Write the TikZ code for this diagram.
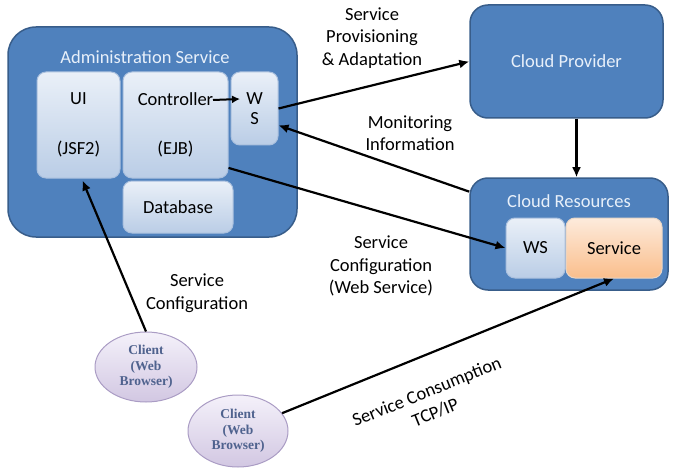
\documentclass[tikz,border=0pt]{standalone}
\usepackage{fontspec}
\setmainfont{Carlito}
\newfontfamily\clientfont{Liberation Serif}
\usetikzlibrary{arrows.meta,shapes.geometric}

\definecolor{cloudblue}{RGB}{79,129,189}
\definecolor{cloudedge}{RGB}{56,93,138}
\definecolor{titletext}{RGB}{232,240,250}
\definecolor{partop}{RGB}{234,240,248}
\definecolor{partbot}{RGB}{186,205,230}
\definecolor{partedge}{RGB}{170,192,222}
\definecolor{svctop}{RGB}{253,235,220}
\definecolor{svcbot}{RGB}{250,190,140}
\definecolor{clienttop}{RGB}{244,241,250}
\definecolor{clientbot}{RGB}{210,199,226}
\definecolor{clientedge}{RGB}{170,156,196}
\definecolor{clienttext}{RGB}{79,98,142}

\begin{document}
\begin{tikzpicture}[
    x=1pt, y=-1pt,
    font=\fontsize{18.5}{22.5}\selectfont, line width=2.2pt,
    tier/.style={draw=cloudedge,fill=cloudblue,line width=1.5pt,rounded corners=18pt,inner sep=0pt},
    tiertitle/.style={text=titletext},
    part/.style={draw=partedge,top color=partop,bottom color=partbot,line width=1pt,
        rounded corners=9pt,inner sep=0pt,align=center},
    svcpart/.style={part,draw=svcbot!80!black!40,top color=svctop,bottom color=svcbot},
    client/.style={ellipse,draw=clientedge,top color=clienttop,bottom color=clientbot,
        line width=1pt,inner sep=0pt,align=center,text=clienttext,
        font=\clientfont\bfseries\fontsize{13.5}{15.5}\selectfont},
    arrow/.style={-{Latex[length=10pt,width=9pt]},line width=2.2pt},
    note/.style={align=center}
]
\path[use as bounding box] (0,0) rectangle (679,473);

% administration side
\node[tier,rounded corners=28pt,minimum width=289pt,minimum height=210pt] (admin) at (152.5,132) {};
\node[tiertitle] (admintitle) at (145,57) {Administration Service};
\node[part,minimum width=83pt,minimum height=106pt] (ui) at (78.5,125) {UI\\[27pt](JSF2)};
\node[part,minimum width=105pt,minimum height=106pt] (ctrl) at (175.5,125) {Controller\\[27pt](EJB)};
\node[part,minimum width=47pt,minimum height=73pt] (ws) at (254.5,108.5) {W\\[-3pt]S};
\node[part,minimum width=110pt,minimum height=52pt] (db) at (178,207) {Database};
\coordinate (ctrlout) at (213,100);
\coordinate (wsin) at (240,99);
\draw[arrow,line width=2pt,-{Latex[length=8pt,width=8pt]}] (ctrlout) -- (wsin);

% cloud side
\node[tier,minimum width=193pt,minimum height=113pt,text=titletext] (prov) at (566.5,61.5) {Cloud Provider};
\node[tier,minimum width=198pt,minimum height=112pt] (res) at (569,234) {};
\node[tiertitle] (restitle) at (569,201) {Cloud Resources};
\node[part,minimum width=59pt,minimum height=60pt] (ws2) at (535.5,248) {WS};
\node[svcpart,minimum width=96pt,minimum height=60pt] (svc) at (614,248) {Service};

% clients
\node[client,minimum width=102pt,minimum height=70pt] (cl1) at (146,367) {Client\\(Web\\Browser)};
\node[client,minimum width=100pt,minimum height=72pt] (cl2) at (238,431) {Client\\(Web\\Browser)};

% connectors
\draw[arrow] (ws.east) -- (prov.west);
\node[note] (provlbl) at (372,38) {Service\\Provisioning\\\& Adaptation};
\draw[arrow] (res.157) -- (ws.-35);
\node[note] (monlbl) at (410,133) {Monitoring\\Information};
\draw[arrow] ([xshift=10pt]prov.south) -- ([xshift=10pt]prov.south |- res.north);
\draw[arrow] (ctrl.-39) -- (ws2.west);
\node[note] (cfglbl) at (381,266) {Service\\Configuration\\(Web Service)};
\draw[arrow] (cl1.north) -- ([xshift=4pt,yshift=-2pt]ui.south);
\node[note] (uicfglbl) at (197,293) {Service\\Configuration};
\draw[arrow] (cl2.22) -- (svc.south);
\node[note,rotate=22] (tcplbl) at (431,402) {Service Consumption\\TCP/IP};
\end{tikzpicture}
\end{document}
